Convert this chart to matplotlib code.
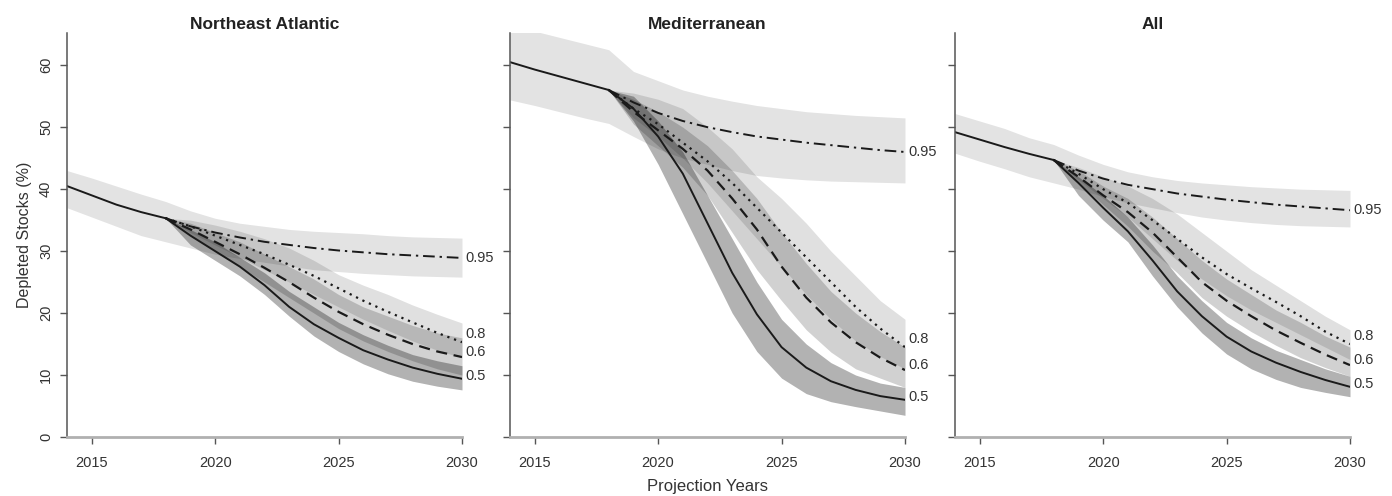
import numpy as np
import matplotlib
matplotlib.use('Agg')
import matplotlib.pyplot as plt

plt.rcParams['font.family'] = ['Liberation Sans', 'DejaVu Sans']

years_hist = np.arange(2014, 2019)
years_proj = np.arange(2018, 2031)
years_all = np.arange(2014, 2031)
x_ticks = [2015, 2020, 2025, 2030]
y_ticks = [0, 10, 20, 30, 40, 50, 60]
regions = ["Northeast Atlantic", "Mediterranean", "All"]

# --- Northeast Atlantic ---
nea_hist = [40.5, 39.0, 37.5, 36.3, 35.3]
nea_050 = [35.3, 32.5, 30.0, 27.5, 24.5, 21.0, 18.2, 16.0, 14.0, 12.5, 11.2, 10.2, 9.4]
nea_050_lo = [35.3, 31.0, 28.5, 26.0, 23.0, 19.5, 16.3, 13.8, 11.8, 10.2, 9.0, 8.2, 7.6]
nea_050_hi = [35.3, 33.5, 31.5, 29.0, 26.5, 23.5, 21.0, 18.5, 16.5, 14.8, 13.3, 12.3, 11.5]
nea_060 = [35.3, 33.5, 31.5, 29.5, 27.3, 25.0, 22.5, 20.2, 18.2, 16.5, 15.0, 13.8, 12.9]
nea_060_lo = [35.3, 32.5, 30.0, 27.5, 25.0, 22.5, 20.0, 17.5, 15.5, 13.8, 12.3, 11.0, 10.0]
nea_060_hi = [35.3, 34.5, 33.0, 31.5, 29.5, 27.5, 25.5, 23.0, 21.0, 19.5, 18.0, 16.8, 16.0]
nea_080 = [35.3, 34.0, 32.5, 31.0, 29.5, 27.8, 26.0, 24.0, 22.0, 20.2, 18.5, 16.8, 15.3]
nea_080_lo = [35.3, 33.0, 31.0, 29.0, 27.0, 25.0, 23.0, 21.0, 19.0, 17.2, 15.5, 14.0, 12.8]
nea_080_hi = [35.3, 35.0, 34.2, 33.2, 32.0, 30.5, 28.5, 26.2, 24.5, 23.0, 21.3, 19.8, 18.4]
nea_095 = [35.3, 34.0, 33.0, 32.2, 31.5, 31.0, 30.5, 30.1, 29.8, 29.5, 29.3, 29.1, 28.9]
nea_095_lo = [37.0, 35.5, 34.0, 32.5, 31.5, 30.5, 29.5, 28.8, 28.2, 27.6, 27.0, 26.7,
              26.4, 26.2, 26.0, 25.9, 25.8]
nea_095_hi = [43.0, 41.8, 40.5, 39.2, 38.0, 36.5, 35.3, 34.5, 34.0, 33.5, 33.2, 33.0,
              32.8, 32.5, 32.3, 32.2, 32.1]

# --- Mediterranean ---
med_hist = [60.5, 59.3, 58.2, 57.1, 56.0]
med_050 = [56.0, 53.0, 48.5, 42.5, 34.5, 26.5, 19.8, 14.5, 11.2, 9.0, 7.6, 6.6, 6.0]
med_050_lo = [56.0, 51.0, 44.0, 36.0, 28.0, 20.0, 13.8, 9.5, 7.0, 5.7, 4.9, 4.2, 3.5]
med_050_hi = [56.0, 55.0, 51.0, 46.0, 39.0, 32.0, 25.0, 19.0, 15.0, 12.0, 10.0, 8.7, 8.0]
med_060 = [56.0, 52.5, 49.5, 46.5, 43.0, 38.5, 33.5, 27.5, 22.5, 18.5, 15.3, 12.8, 10.8]
med_060_lo = [56.0, 50.5, 47.0, 43.5, 39.0, 33.0, 27.0, 22.0, 17.3, 13.7, 11.0, 9.5, 8.0]
med_060_hi = [56.0, 54.5, 52.5, 50.0, 47.0, 43.0, 38.5, 33.0, 28.0, 23.5, 20.0, 17.0, 14.5]
med_080 = [56.0, 53.0, 50.5, 47.5, 44.5, 41.0, 37.0, 33.0, 29.0, 25.0, 21.0, 17.5, 14.5]
med_080_lo = [56.0, 51.5, 48.5, 45.0, 41.0, 36.5, 32.0, 27.5, 23.0, 19.0, 15.5, 13.0, 11.0]
med_080_hi = [56.0, 55.5, 54.5, 53.0, 50.0, 46.5, 42.0, 38.5, 34.5, 30.0, 26.0, 22.0, 19.0]
med_095 = [56.0, 54.0, 52.3, 51.0, 50.0, 49.2, 48.5, 48.0, 47.5, 47.1, 46.7, 46.3, 46.0]
med_095_lo = [54.4, 53.5, 52.5, 51.5, 50.6, 48.5, 46.5, 45.0, 44.0, 43.0, 42.2, 41.8,
              41.5, 41.3, 41.2, 41.1, 41.0]
med_095_hi = [65.5, 65.5, 64.5, 63.5, 62.5, 59.0, 57.5, 56.0, 55.0, 54.2, 53.5, 53.0,
              52.5, 52.2, 51.9, 51.7, 51.5]

# --- All ---
all_hist = [49.2, 48.0, 46.8, 45.7, 44.7]
all_050 = [44.7, 41.0, 37.0, 33.2, 28.5, 23.5, 19.5, 16.2, 13.8, 12.0, 10.5, 9.2, 8.1]
all_050_lo = [44.7, 39.0, 35.0, 31.5, 26.0, 21.0, 16.8, 13.4, 11.0, 9.3, 8.0, 7.2, 6.5]
all_050_hi = [44.7, 42.0, 39.0, 35.5, 31.0, 26.0, 22.0, 18.5, 16.0, 14.0, 12.5, 11.0, 9.8]
all_060 = [44.7, 42.0, 39.0, 36.3, 33.0, 29.0, 25.0, 22.0, 19.5, 17.2, 15.2, 13.3, 11.6]
all_060_lo = [44.7, 41.0, 37.5, 34.0, 30.0, 26.5, 22.5, 19.5, 17.0, 14.8, 12.8, 11.2, 9.8]
all_060_hi = [44.7, 43.0, 40.5, 38.5, 35.5, 32.0, 28.5, 25.5, 23.0, 20.5, 18.5, 16.3, 14.5]
all_080 = [44.7, 42.5, 40.0, 37.8, 35.0, 32.0, 29.0, 26.3, 24.0, 21.8, 19.5, 17.0, 15.0]
all_080_lo = [44.7, 41.5, 38.5, 35.5, 32.0, 28.5, 25.5, 22.8, 20.5, 18.5, 16.5, 14.5, 12.5]
all_080_hi = [44.7, 43.5, 42.0, 40.5, 38.5, 36.0, 33.0, 30.0, 27.0, 24.5, 22.0, 19.5, 17.3]
all_095 = [44.7, 43.0, 41.7, 40.7, 40.0, 39.3, 38.8, 38.3, 37.9, 37.5, 37.2, 36.9, 36.6]
all_095_lo = [45.8, 44.5, 43.3, 42.0, 41.0, 40.0, 38.8, 37.8, 37.0, 36.2, 35.5, 35.0,
              34.6, 34.3, 34.1, 34.0, 33.9]
all_095_hi = [52.2, 51.0, 49.8, 48.3, 47.2, 45.5, 44.0, 42.8, 42.0, 41.4, 41.0, 40.7,
              40.4, 40.2, 40.0, 39.9, 39.8]

panels = [
    (nea_hist, (nea_050, nea_050_lo, nea_050_hi), (nea_060, nea_060_lo, nea_060_hi),
     (nea_080, nea_080_lo, nea_080_hi), (nea_095, nea_095_lo, nea_095_hi)),
    (med_hist, (med_050, med_050_lo, med_050_hi), (med_060, med_060_lo, med_060_hi),
     (med_080, med_080_lo, med_080_hi), (med_095, med_095_lo, med_095_hi)),
    (all_hist, (all_050, all_050_lo, all_050_hi), (all_060, all_060_lo, all_060_hi),
     (all_080, all_080_lo, all_080_hi), (all_095, all_095_lo, all_095_hi)),
]

# label, band alpha, line style, label offset (points)
scen_style = [
    ("0.5", 0.30, '-', 2),
    ("0.6", 0.18, (0, (5, 3)), 4),
    ("0.8", 0.12, (0, (1, 2.2)), 6),
]

fig = plt.figure(figsize=(13.92, 4.96), dpi=100)
lefts = [67 / 1392, 510 / 1392, 955 / 1392]
ink = '#1a1a1a'
txt = '#333333'

for i, (hist, s050, s060, s080, s095) in enumerate(panels):
    ax = fig.add_axes([lefts[i], 59 / 496, 395 / 1392, 404 / 496])
    line95, lo95, hi95 = s095

    # widest band covers the whole period, narrower ones go on top
    ax.fill_between(years_all, lo95, hi95, color='k', alpha=0.11, lw=0)
    for (mid, lo, hi), (name, alpha, ls, off) in zip([s080, s060, s050], scen_style[::-1]):
        ax.fill_between(years_proj, lo, hi, color='k', alpha=alpha, lw=0)

    ax.plot(years_proj, line95, color=ink, lw=1.4, ls=(0, (6, 2.5, 1.2, 2.5)))
    for (mid, lo, hi), (name, alpha, ls, off) in zip([s050, s060, s080], scen_style):
        lw = 1.4 if name == "0.5" else 1.6
        ax.plot(years_proj, mid, color=ink, lw=lw, ls=ls)
        ax.annotate(name, xy=(years_proj[-1], mid[-1]), xytext=(2.5, off),
                    textcoords='offset points', ha='left', va='center',
                    fontsize=10.5, color=txt, annotation_clip=False)
    ax.annotate("0.95", xy=(years_proj[-1], line95[-1]), xytext=(2.5, 0),
                textcoords='offset points', ha='left', va='center',
                fontsize=10.5, color=txt, annotation_clip=False)
    ax.plot(years_hist, hist, color=ink, lw=1.4)

    ax.set_xlim(2014, 2030)
    ax.set_ylim(0, 65.2)
    ax.set_xticks(x_ticks)
    ax.set_yticks(y_ticks)
    ax.tick_params(axis='x', length=5, width=1, colors='#555555', labelcolor=txt,
                   labelsize=10.5, pad=9)
    ax.tick_params(axis='y', length=5, width=1, colors='#555555', labelcolor=txt,
                   labelsize=10.5, pad=5)
    if i == 0:
        ax.set_yticklabels([str(t) for t in y_ticks], rotation=90, va='center')
        ax.set_ylabel("Depleted Stocks (%)", fontsize=11.5, color=txt, labelpad=5)
    else:
        ax.set_yticklabels([])
    if i == 1:
        ax.set_xlabel("Projection Years", fontsize=12, color=txt, labelpad=6)

    ax.spines['top'].set_visible(False)
    ax.spines['right'].set_visible(False)
    ax.spines['left'].set_color('#555555')
    ax.spines['left'].set_linewidth(1.1)
    ax.spines['bottom'].set_color('#b0b0b0')
    ax.spines['bottom'].set_linewidth(2)
    ax.set_title(regions[i], fontsize=12.5, fontweight='bold', color='#222222', pad=3)

fig.savefig('out.png', dpi=100, facecolor='white')
